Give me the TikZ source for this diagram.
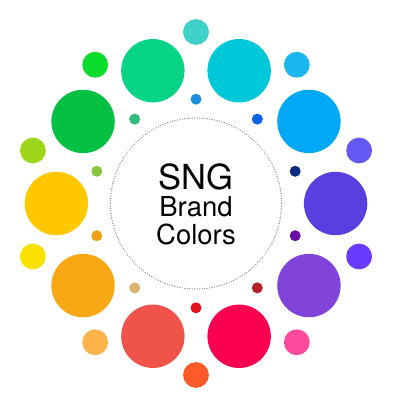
\documentclass[tikz,border=0pt]{standalone}
\usepackage{fontspec}
\usetikzlibrary{calc}
\newfontfamily\hel{TeX Gyre Heros}
\tikzset{
  dot/.style={circle, inner sep=0pt, draw=none},
  bigdot/.style={dot, minimum size=63.4pt},
  middot/.style={dot, minimum size=25.8pt},
  smalldot/.style={dot, minimum size=11pt},
  ring/.style={draw=gray, line width=1.3pt, dash pattern=on 0.01pt off 2.5pt, line cap=round},
  txt/.style={anchor=base, inner sep=0pt}
}
\begin{document}
\begin{tikzpicture}[x=1pt,y=1pt]
\useasboundingbox (0,0) rectangle (408,416);
\fill[white] (0,0) rectangle (408,416);
\coordinate (c) at (196,212.5);
% big circles
\foreach \a/\col [count=\i] in {
  0/5a3fe0, 36/00a8f5, 72/00c8d8, 108/08d488, 144/06c043,
  180/ffc800, 216/f8a815, 252/ef5349, 288/fa0050, 324/8044db}{
  \definecolor{tmp}{HTML}{\col}
  \node[bigdot, fill=tmp] (big\i) at ($(c)+(\a:139.6)$) {};
}
% medium circles
\foreach \a/\col [count=\i] in {
  18/6457f2, 54/1cb6ee, 90/3dd1c9, 126/09dd2c, 162/9ed61a,
  198/f9e100, 234/fcb44a, 270/ff5b2a, 306/fe4b9e, 342/6a3bfd}{
  \definecolor{tmp}{HTML}{\col}
  \node[middot, fill=tmp] (mid\i) at ($(c)+(\a:171.5)$) {};
}
% small inner dots
\foreach \a/\col [count=\i] in {
  18/0c2a82, 54/0b62e6, 90/1e8ee3, 126/33b97d, 162/8ac63d,
  198/eea114, 234/d9b36e, 270/e5141f, 306/b5212a, 342/6a0ea5}{
  \definecolor{tmp}{HTML}{\col}
  \node[smalldot, fill=tmp] (small\i) at ($(c)+(\a:104.3)$) {};
}
% dotted ring
\draw[ring] (c) circle (85.5);
% text
\node[txt, font=\hel\fontsize{34.5}{36}\selectfont] (t1) at (196,226.7) {SNG};
\node[txt, font=\hel\fontsize{27.5}{30}\selectfont] (t2) at (196,199.3) {Brand};
\node[txt, font=\hel\fontsize{27.5}{30}\selectfont] (t3) at (196,171.7) {Colors};
\end{tikzpicture}
\end{document}
